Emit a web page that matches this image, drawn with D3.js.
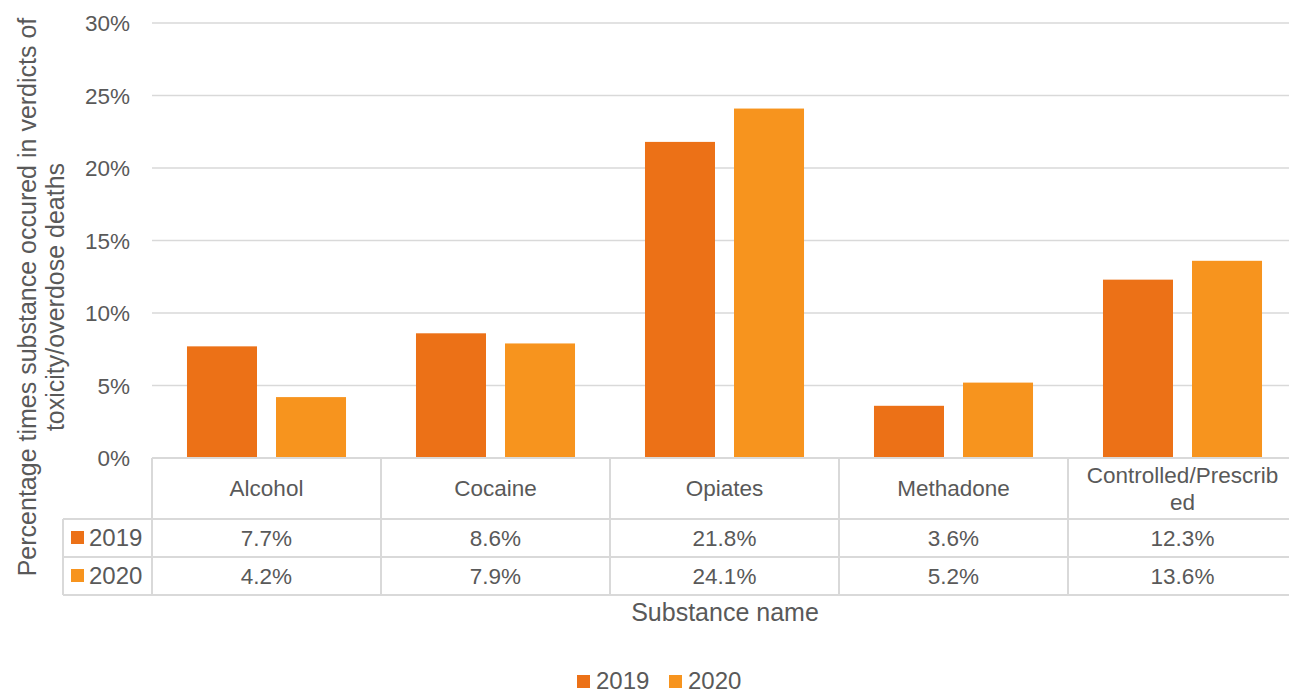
<!DOCTYPE html>
<html><head><meta charset="utf-8">
<script src="https://cdn.jsdelivr.net/npm/d3@7"></script>
<style>body{margin:0;background:#fff}svg{display:block}text{font-family:"Liberation Sans",Arial,sans-serif;fill:#595959}</style>
</head><body>
<script>
const categories = ["Alcohol","Cocaine","Opiates","Methadone","Controlled/Prescribed"];
const categoryLines = [["Alcohol"],["Cocaine"],["Opiates"],["Methadone"],["Controlled/Prescrib","ed"]];
const seriesNames = ["2019","2020"];
const values2019 = [7.7, 8.6, 21.8, 3.6, 12.3];
const values2020 = [4.2, 7.9, 24.1, 5.2, 13.6];
const yTicks = [0,5,10,15,20,25,30];
const colors = ["#EC7117","#F7941E"];

const W=1289,H=694;
const svg=d3.select("body").append("svg").attr("width",W).attr("height",H);
const x0=152, cw=229;
const x=d3.scaleBand().domain(categories).range([x0,x0+cw*5]).paddingInner(0).paddingOuter(0);
const xs=d3.scaleBand().domain(seriesNames).range([0,cw]).paddingInner(0.2135).paddingOuter(0.393);
const y=d3.scaleLinear().domain([0,30]).range([458,23]);
const grid="#d9d9d9";

// gridlines
svg.append("g").selectAll("line").data(yTicks.slice(1)).join("line")
  .attr("x1",x0).attr("x2",W).attr("y1",d=>y(d)).attr("y2",d=>y(d))
  .attr("stroke",grid).attr("stroke-width",1.5);

// y axis labels
const yAxis=d3.axisLeft(y).tickValues(yTicks).tickFormat(d=>d+"%").tickSize(0).tickPadding(0);
const ga=svg.append("g").attr("transform","translate(130,0)").call(yAxis);
ga.select(".domain").remove();
ga.selectAll("text").style("font-size","22.5px").style("font-family","'Liberation Sans',Arial,sans-serif").attr("fill","#595959").attr("dy","0.35em");

// bars
const series=[values2019,values2020];
series.forEach((vals,si)=>{
  svg.append("g").selectAll("rect").data(vals).join("rect")
    .attr("x",(d,i)=>x(categories[i])+xs(seriesNames[si]))
    .attr("width",xs.bandwidth())
    .attr("y",d=>y(d)).attr("height",d=>y(0)-y(d))
    .attr("fill",colors[si]);
});

// data table
const t=svg.append("g").attr("stroke",grid).attr("stroke-width",2);
const rTop=458,r1=519,r2=557,r3=595,tl=63;
t.append("line").attr("x1",x0).attr("x2",W).attr("y1",rTop).attr("y2",rTop);
[r1,r2,r3].forEach(yy=>t.append("line").attr("x1",tl).attr("x2",W).attr("y1",yy).attr("y2",yy));
t.append("line").attr("x1",tl).attr("x2",tl).attr("y1",r1).attr("y2",r3);
d3.range(6).forEach(i=>t.append("line").attr("x1",x0+i*cw).attr("x2",x0+i*cw).attr("y1",rTop).attr("y2",r3));

// category labels
categories.forEach((c,i)=>{
  const lines=categoryLines[i];
  const cx=x(c)+cw/2;
  const cy=(rTop+r1)/2;
  const lh=27;
  lines.forEach((ln,j)=>{
    svg.append("text").attr("x",cx).attr("y",cy+(j-(lines.length-1)/2)*lh).attr("dy","0.35em")
      .attr("text-anchor","middle").style("font-size","22.5px").text(ln);
  });
});
// table values
[[r1,r2],[r2,r3]].forEach((rr,si)=>{
  const cy=(rr[0]+rr[1])/2;
  svg.append("rect").attr("x",71).attr("y",cy-7).attr("width",13).attr("height",13).attr("fill",colors[si]);
  svg.append("text").attr("x",89).attr("y",cy).attr("dy","0.35em").style("font-size","24px").text(seriesNames[si]);
  series[si].forEach((v,i)=>{
    svg.append("text").attr("x",x(categories[i])+cw/2).attr("y",cy).attr("dy","0.35em")
      .attr("text-anchor","middle").style("font-size","22.5px").text(v.toFixed(1)+"%");
  });
});

// axis titles
svg.append("text").attr("x",725).attr("y",612).attr("dy","0.35em").attr("text-anchor","middle")
  .style("font-size","25px").text("Substance name");
const yt=svg.append("text").attr("transform","translate(0,297) rotate(-90)").attr("text-anchor","middle").style("font-size","25px");
yt.append("tspan").attr("x",0).attr("y",36).text("Percentage times substance occured in verdicts of");
yt.append("tspan").attr("x",0).attr("y",64).text("toxicity/overdose deaths");

// legend
const lg=svg.append("g");
[[577,"2019"],[669,"2020"]].forEach((d,i)=>{
  lg.append("rect").attr("x",d[0]).attr("y",675).attr("width",13).attr("height",13).attr("fill",colors[i]);
  lg.append("text").attr("x",d[0]+19).attr("y",681).attr("dy","0.35em").style("font-size","24px").text(d[1]);
});
</script>
</body></html>
